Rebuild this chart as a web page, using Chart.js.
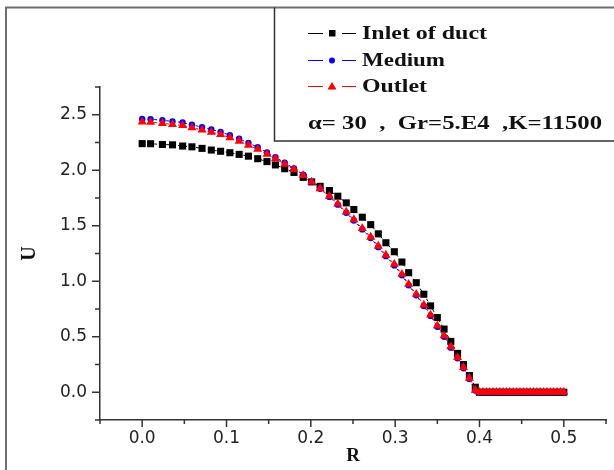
<!DOCTYPE html>
<html>
<head>
<meta charset="utf-8">
<script src="https://cdn.jsdelivr.net/npm/chart.js@4/dist/chart.umd.min.js"></script>
<style>
html,body{margin:0;padding:0;background:#fff;}
canvas{display:block;}
</style>
</head>
<body>
<canvas id="c" width="614" height="470"></canvas>
<script>
// ---- data ----
const R = [0.000,0.010,0.024,0.036,0.048,0.059,0.071,0.082,0.093,0.104,0.115,0.126,0.137,0.148,0.158,0.169,0.180,0.191,0.201,0.211,
           0.222,0.232,0.242,0.251,0.261,0.271,0.280,0.289,0.299,0.308,0.316,0.325,0.334,0.342,0.350,0.358,0.366,0.374,0.381,0.388,0.395,
           0.400,0.404,0.408,0.412,0.416,0.420,0.424,0.428,0.432,0.436,0.440,0.444,0.448,0.452,0.456,0.460,0.464,0.468,0.472,0.476,
           0.480,0.484,0.488,0.492,0.496,0.500];
const inletU = [2.240,2.239,2.232,2.229,2.218,2.211,2.197,2.182,2.171,2.158,2.143,2.127,2.104,2.078,2.048,2.014,1.980,1.936,1.895,1.855,
                1.817,1.766,1.706,1.646,1.577,1.510,1.427,1.347,1.266,1.173,1.077,0.987,0.883,0.778,0.673,0.569,0.458,0.350,0.249,0.150,0.045,
                0,0,0,0,0,0,0,0,0,0,0,0,0,0,0,0,0,0,0,0,0,0,0,0,0,0];
const mediumU = [2.462,2.460,2.450,2.440,2.430,2.410,2.388,2.367,2.345,2.316,2.284,2.246,2.207,2.161,2.118,2.067,2.017,1.960,1.896,1.833,
                 1.760,1.690,1.617,1.547,1.467,1.389,1.307,1.226,1.143,1.053,0.963,0.873,0.777,0.688,0.590,0.500,0.402,0.306,0.216,0.119,0.015,
                 0,0,0,0,0,0,0,0,0,0,0,0,0,0,0,0,0,0,0,0,0,0,0,0,0,0];
const outletU = [2.435,2.433,2.423,2.413,2.403,2.384,2.363,2.343,2.322,2.294,2.263,2.226,2.189,2.145,2.104,2.055,2.008,1.954,1.894,1.835,
                 1.766,1.697,1.625,1.556,1.476,1.398,1.317,1.236,1.153,1.063,0.973,0.883,0.787,0.697,0.599,0.509,0.410,0.314,0.224,0.126,0.020,
                 0,0,0,0,0,0,0,0,0,0,0,0,0,0,0,0,0,0,0,0,0,0,0,0,0,0];
const seriesNames = ['Inlet of duct','Medium','Outlet'];
const paramText = 'α= 30  ,  Gr=5.E4  ,K=11500';
const xTickLabels = ['0.0','0.1','0.2','0.3','0.4','0.5'];
const yTickLabels = ['0.0','0.5','1.0','1.5','2.0','2.5'];
const xLabel = 'R';
const yLabel = 'U';

const toXY = (xs, ys) => xs.map((x, i) => ({x: x, y: ys[i]}));

function xTick(v) {
  const k = Math.round(v * 10);
  if (Math.abs(v * 10 - k) < 1e-6 && k >= 0 && k < xTickLabels.length) return xTickLabels[k];
  return '';
}
function yTick(v) {
  const k = Math.round(v * 2);
  if (Math.abs(v * 2 - k) < 1e-6 && k >= 0 && k < yTickLabels.length) return yTickLabels[k];
  return '';
}

const decor = {
  id: 'decor',
  afterDraw(chart) {
    const ctx = chart.ctx;
    const xs = chart.scales.x, ys = chart.scales.y;
    ctx.save();
    // outer frame
    ctx.strokeStyle = '#6e6e6e';
    ctx.lineWidth = 2;
    ctx.beginPath();
    ctx.moveTo(614, 7.5); ctx.lineTo(6, 7.5); ctx.lineTo(6, 470);
    ctx.stroke();
    // legend box
    ctx.strokeStyle = '#333';
    ctx.lineWidth = 1.5;
    ctx.beginPath();
    ctx.moveTo(274.5, 7.5); ctx.lineTo(274.5, 141); ctx.lineTo(614, 141);
    ctx.stroke();
    // ticks
    ctx.strokeStyle = '#333';
    ctx.lineWidth = 1.5;
    xs.ticks.forEach(t => {
      const p = xs.getPixelForValue(t.value);
      const major = xTick(t.value) !== '';
      ctx.beginPath(); ctx.moveTo(p, xs.top); ctx.lineTo(p, xs.top + (major ? 7 : 4)); ctx.stroke();
    });
    ys.ticks.forEach(t => {
      const p = ys.getPixelForValue(t.value);
      const major = yTick(t.value) !== '';
      ctx.beginPath(); ctx.moveTo(ys.right, p); ctx.lineTo(ys.right - (major ? 8 : 5), p); ctx.stroke();
    });
    // legend entries
    const rows = [
      {y: 33, color: '#000000', shape: 'rect', text: seriesNames[0], w: 125},
      {y: 60, color: '#0000ff', shape: 'circle', text: seriesNames[1], w: 83},
      {y: 86, color: '#ff0000', shape: 'tri', text: seriesNames[2], w: 65}
    ];
    rows.forEach(r => {
      ctx.strokeStyle = r.color;
      ctx.fillStyle = r.color;
      ctx.lineWidth = 1;
      ctx.beginPath();
      ctx.moveTo(308, r.y + 0.5); ctx.lineTo(323, r.y + 0.5);
      ctx.moveTo(342, r.y + 0.5); ctx.lineTo(356, r.y + 0.5);
      ctx.stroke();
      ctx.beginPath();
      if (r.shape === 'rect') ctx.rect(329, r.y - 3, 6.5, 6.5);
      else if (r.shape === 'circle') ctx.arc(332, r.y + 0.5, 3, 0, Math.PI * 2);
      else { ctx.moveTo(332, r.y - 4); ctx.lineTo(336.5, r.y + 3.5); ctx.lineTo(327.5, r.y + 3.5); ctx.closePath(); }
      ctx.fill();
      drawStretched(ctx, r.text, 362, r.y + 1, r.w);
    });
    drawStretched(ctx, paramText, 308, 124, 294);
    ctx.restore();
  }
};

function drawStretched(ctx, text, x, y, w) {
  ctx.save();
  ctx.font = 'bold 19px "Liberation Serif", "Times New Roman", serif';
  ctx.fillStyle = '#111';
  ctx.textBaseline = 'middle';
  ctx.textAlign = 'left';
  const m = ctx.measureText(text).width;
  ctx.translate(x, y);
  ctx.scale(w / m, 1);
  ctx.fillText(text, 0, 0);
  ctx.restore();
}

new Chart(document.getElementById('c'), {
  type: 'scatter',
  data: {
    datasets: [
      {label: seriesNames[0], data: toXY(R, inletU), showLine: true, order: 2,
       borderColor: '#000', borderWidth: 1, borderDash: [3, 3],
       pointStyle: 'rect', pointRadius: 5, pointBackgroundColor: '#000', pointBorderColor: '#000', pointBorderWidth: 0},
      {label: seriesNames[1], data: toXY(R, mediumU), showLine: true, order: 1,
       borderColor: '#0000ff', borderWidth: 1, borderDash: [3, 3],
       pointStyle: 'circle', pointRadius: 3.2, pointBackgroundColor: '#0000ff', pointBorderColor: '#0000ff', pointBorderWidth: 0},
      {label: seriesNames[2], data: toXY(R, outletU), showLine: true, order: 0,
       borderColor: '#ff0000', borderWidth: 1, borderDash: [3, 3],
       pointStyle: 'triangle', pointRadius: 5.2, pointBackgroundColor: '#ff0000', pointBorderColor: '#ff0000', pointBorderWidth: 0}
    ]
  },
  options: {
    responsive: false,
    devicePixelRatio: 1,
    animation: false,
    layout: {padding: {left: 0, right: 7, top: 87, bottom: 0}},
    plugins: {legend: {display: false}, tooltip: {enabled: false}},
    elements: {line: {tension: 0}},
    scales: {
      x: {
        type: 'linear', position: 'bottom', min: -0.05, max: 0.55,
        afterFit(s) { s.height = 50; },
        ticks: {stepSize: 0.05, autoSkip: false, maxRotation: 0, padding: 8, color: '#222',
                font: {family: 'DejaVu Sans', size: 17}, callback: v => xTick(v)},
        grid: {display: true, drawOnChartArea: false, drawTicks: false},
        border: {display: true, color: '#333', width: 1.5},
        title: {display: true, text: xLabel, color: '#111', padding: {top: 0, bottom: 3},
                font: {family: 'Liberation Serif', size: 19, weight: 'bold'}}
      },
      y: {
        type: 'linear', position: 'left', min: -0.25, max: 2.75,
        afterFit(s) { s.width = 100; },
        ticks: {stepSize: 0.25, autoSkip: false, padding: 13, color: '#222',
                font: {family: 'DejaVu Sans', size: 17}, callback: v => yTick(v)},
        grid: {display: true, drawOnChartArea: false, drawTicks: false},
        border: {display: true, color: '#333', width: 1.5},
        title: {display: true, text: yLabel, color: '#111', padding: {top: 18, bottom: 0},
                font: {family: 'Liberation Serif', size: 20, weight: 'bold'}}
      }
    }
  },
  plugins: [decor]
});
</script>
</body>
</html>
